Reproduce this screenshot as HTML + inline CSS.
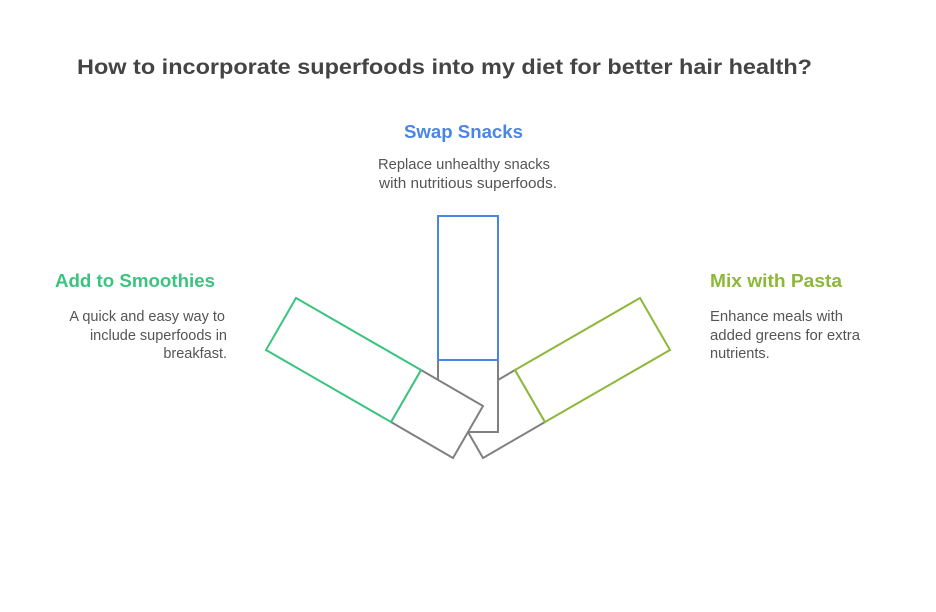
<!DOCTYPE html>
<html><head><meta charset="utf-8"><style>
html,body{margin:0;padding:0;background:#fff;}
svg{display:block;font-family:"Liberation Sans",Arial,sans-serif;}
</style></head><body>
<svg width="936" height="612" viewBox="0 0 936 612" xmlns="http://www.w3.org/2000/svg">
<text x="77" y="74" font-size="21" font-weight="bold" fill="#444" textLength="735" lengthAdjust="spacingAndGlyphs">How to incorporate superfoods into my diet for better hair health?</text>

<text x="404" y="138" font-size="18" font-weight="bold" fill="#4a86e8" textLength="119" lengthAdjust="spacingAndGlyphs">Swap Snacks</text>
<text x="378" y="169" font-size="14.5" fill="#555" textLength="172" lengthAdjust="spacingAndGlyphs">Replace unhealthy snacks</text>
<text x="379" y="188" font-size="14.5" fill="#555" textLength="178" lengthAdjust="spacingAndGlyphs">with nutritious superfoods.</text>

<text x="55" y="287" font-size="18" font-weight="bold" fill="#3cc37f" textLength="160" lengthAdjust="spacingAndGlyphs">Add to Smoothies</text>
<text x="225" y="321" font-size="14.5" fill="#555" text-anchor="end">A quick and easy way to</text>
<text x="227" y="340" font-size="14.5" fill="#555" text-anchor="end">include superfoods in</text>
<text x="227" y="358" font-size="14.5" fill="#555" text-anchor="end">breakfast.</text>

<text x="710" y="287" font-size="18" font-weight="bold" fill="#8db83a" textLength="132" lengthAdjust="spacingAndGlyphs">Mix with Pasta</text>
<text x="710" y="321" font-size="14.5" fill="#555" textLength="133" lengthAdjust="spacingAndGlyphs">Enhance meals with</text>
<text x="710" y="340" font-size="14.5" fill="#555" textLength="150" lengthAdjust="spacingAndGlyphs">added greens for extra</text>
<text x="710" y="358" font-size="14.5" fill="#555">nutrients.</text>

<g stroke-width="2" stroke-linejoin="miter">
<polygon points="498,380 515,370 545,422 483,458 468,432 498,432" fill="#fff" stroke="#808080"/>
<polygon points="640,298 670,350 545,422 515,370" fill="#fff" stroke="#8db83a"/>
<rect x="438" y="360" width="60" height="72" fill="#fff" stroke="#808080"/>
<rect x="438" y="216" width="60" height="144" fill="#fff" stroke="#4a86e8"/>
<polygon points="421,370 483,406 453,458 391,422" fill="#fff" stroke="#808080"/>
<polygon points="296,298 421,370 391,422 266,350" fill="#fff" stroke="#3cc37f"/>
</g>
</svg>
</body></html>
